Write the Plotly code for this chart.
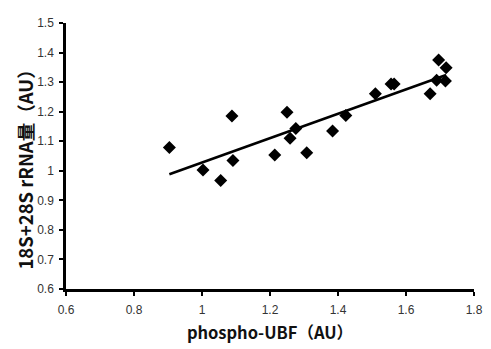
import numpy as np
import plotly.graph_objects as go

phospho_ubf = [0.904, 1.003, 1.055, 1.091, 1.088, 1.214, 1.250, 1.259, 1.276, 1.308,
               1.384, 1.423, 1.510, 1.556, 1.565, 1.671, 1.690, 1.696, 1.716, 1.718]
rrna = [1.079, 1.003, 0.967, 1.035, 1.185, 1.053, 1.198, 1.110, 1.143, 1.061,
        1.135, 1.187, 1.261, 1.294, 1.294, 1.261, 1.306, 1.375, 1.304, 1.349]

x = np.array(phospho_ubf)
y = np.array(rrna)
slope, intercept = np.polyfit(x, y, 1)
xl = np.array([x.min(), x.max()])
yl = slope * xl + intercept

fig = go.Figure()
fig.add_trace(go.Scatter(x=xl, y=yl, mode="lines",
                         line=dict(color="black", width=2.5), showlegend=False,
                         hoverinfo="skip"))
fig.add_trace(go.Scatter(x=phospho_ubf, y=rrna, mode="markers",
                         marker=dict(symbol="diamond", size=10, color="black"),
                         showlegend=False))

# page body has an 8px default margin, so the figure is sized to fit the window
fig.update_layout(
    width=483, height=341,
    margin=dict(l=58, r=9, t=8, b=59),
    paper_bgcolor="white", plot_bgcolor="white",
    font=dict(family="Liberation Sans, Arial, sans-serif", color="#333", size=12),
    xaxis=dict(range=[0.6, 1.8], dtick=0.2, tick0=0.6, showgrid=False, zeroline=False,
               showline=True, linecolor="black", linewidth=2.5,
               ticks="outside", ticklen=4, tickwidth=2, tickcolor="black",
               ticklabeloverflow="allow", ticklabelstandoff=4,
               title=dict(text="<b>phospho-UBF（AU）</b>",
                          font=dict(size=16.5, family="Noto Sans CJK SC, Liberation Sans", color="#111"),
                          standoff=12)),
    yaxis=dict(range=[0.6, 1.5], dtick=0.1, tick0=0.6, showgrid=False, zeroline=False,
               showline=True, linecolor="black", linewidth=2.5,
               ticks="outside", ticklen=4, tickwidth=2, tickcolor="black",
               ticklabelstandoff=3),
    annotations=[dict(text="<b>18S+28S rRNA量（AU）</b>", textangle=-90,
                      xref="paper", yref="paper", x=-0.101, y=0.467,
                      xanchor="center", yanchor="middle", showarrow=False,
                      font=dict(size=18.5, family="Noto Sans CJK SC, Liberation Sans", color="#111"))],
)
fig.write_html("out.html")
